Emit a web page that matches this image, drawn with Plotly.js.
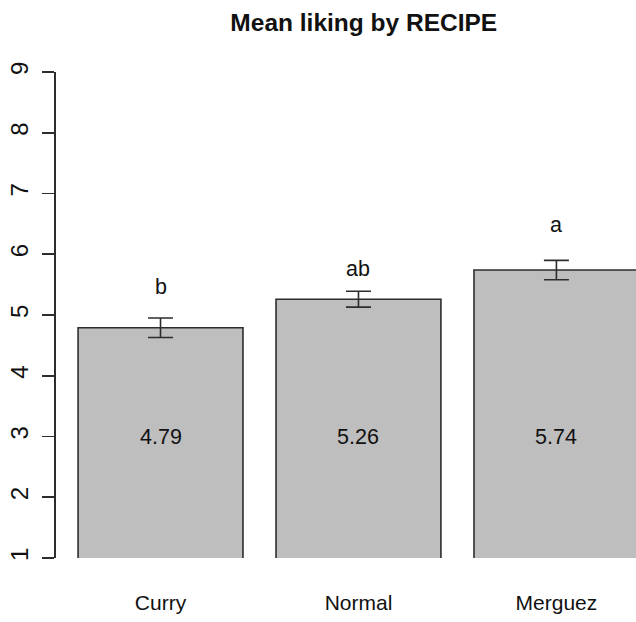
<!DOCTYPE html>
<html>
<head>
<meta charset="utf-8">
<script src="https://cdn.plot.ly/plotly-3.0.1.min.js"></script>
<style>html,body{margin:0;padding:0;background:#fff;}#chart{width:636px;height:622px;}</style>
</head>
<body>
<div id="chart"></div>
<script>
var recipes = ["Curry", "Normal", "Merguez"];
var meanLiking = [4.79, 5.26, 5.74];
var stdError = [0.16, 0.13, 0.16];
var groupLetters = ["b", "ab", "a"];
var letterHeights = [5.46, 5.76, 6.48];
var valueLabelHeight = 3;
var yTicks = [1, 2, 3, 4, 5, 6, 7, 8, 9];

var dark = "rgb(45,45,45)";
var fontFam = "Liberation Sans, Arial, sans-serif";

var trace = {
  type: "bar",
  x: recipes,
  y: meanLiking,
  width: 0.833,
  marker: {color: "#bebebe", line: {color: dark, width: 1.6}},
  error_y: {type: "data", array: stdError, visible: true, color: dark, thickness: 1.6, width: 12.5},
  hoverinfo: "skip"
};

var annotations = [];
recipes.forEach(function (r, i) {
  annotations.push({x: r, y: valueLabelHeight, xref: "x", yref: "y", text: meanLiking[i].toFixed(2),
    showarrow: false, font: {family: fontFam, size: 21.5, color: "#111"}, xanchor: "center", yanchor: "middle"});
  annotations.push({x: r, y: letterHeights[i], xref: "x", yref: "y", text: groupLetters[i],
    showarrow: false, font: {family: fontFam, size: 21.5, color: "#111"}, xanchor: "center", yanchor: "middle"});
});

var layout = {
  width: 636, height: 622,
  margin: {l: 56, r: 0, t: 71.5, b: 64, pad: 0},
  paper_bgcolor: "#fff", plot_bgcolor: "#fff",
  showlegend: false,
  title: {text: "<b>Mean liking by RECIPE</b>", x: 0.572, xref: "container", xanchor: "center",
    y: 1 - 22 / 622, yref: "container", yanchor: "middle",
    font: {family: fontFam, size: 24.5, color: "#111"}},
  xaxis: {type: "category", range: [-0.528, 2.402], showline: false, showgrid: false, zeroline: false,
    ticks: "", ticklabelstandoff: 30, tickfont: {family: fontFam, size: 21, color: "#111"}, fixedrange: true},
  yaxis: {range: [1, 9], tickvals: yTicks, ticktext: yTicks.map(String), showline: true, linecolor: dark, linewidth: 1.6,
    ticks: "outside", ticklen: 12, tickwidth: 1.6, tickcolor: dark, tickangle: -90, ticklabelstandoff: 5,
    showgrid: false, zeroline: false, tickfont: {family: fontFam, size: 24, color: "#111"}, fixedrange: true},
  annotations: annotations,
  bargap: 0
};

Plotly.newPlot("chart", [trace], layout, {displayModeBar: false, staticPlot: true});
</script>
</body>
</html>
